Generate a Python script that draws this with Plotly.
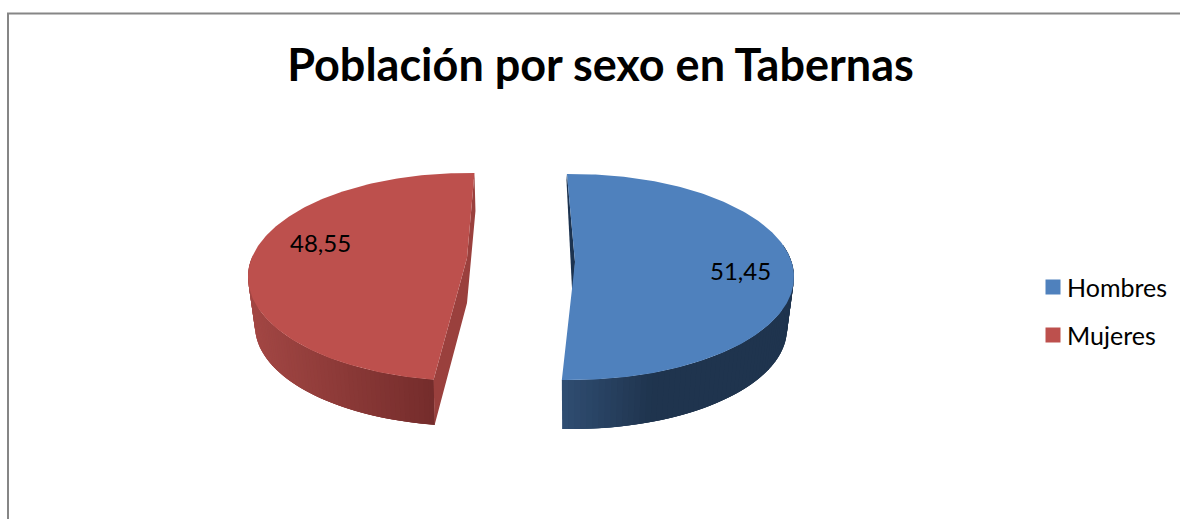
import numpy as np
import plotly.graph_objects as go

CATEGORIES = ["Hombres", "Mujeres"]
VALUES = [51.45, 48.55]
TITLE = "Población por sexo en Tabernas"
FACE_COLORS = ["#4f81bd", "#bd504d"]
FONT = "Lato"

W, H = 1180, 519


def hex2rgb(h):
    return np.array([int(h[i:i + 2], 16) for i in (1, 3, 5)], float)


def lerp(c0, c1, t):
    t = min(max(t, 0.0), 1.0)
    c = hex2rgb(c0) * (1 - t) + hex2rgb(c1) * t
    return "rgb(%d,%d,%d)" % tuple(c.round())


def ell(t_deg, cx, cy, a, b):
    t = np.radians(t_deg)
    return cx + a * np.sin(t), cy - b * np.cos(t)


# view geometry of each exploded slice (3-D look)
VIEW = [
    dict(start=-1.3, squash=0.993, top=(572, 277, 222, 103), bot=(572, 329, 215, 100),
         apex=(575, 262), grad=("#304e73", "#1f344e", 560, 650)),
    dict(start=189.0, squash=0.988, top=(468, 277, 220, 104), bot=(468, 326, 213, 100),
         apex=(467, 258), grad=("#a34744", "#742c2b", 255, 436)),
]

fig = go.Figure()


def poly(xs, ys, color):
    fig.add_trace(go.Scatter(x=list(xs), y=list(ys), mode="lines", fill="toself", fillcolor=color,
                             line=dict(color=color, width=0), hoverinfo="skip", showlegend=False))


def wall(v, a_from, a_to, n, color_of):
    # strips overlap the next ones, so that no seams show
    ts = np.linspace(a_from, a_to, n)
    for i in range(n - 1):
        tt = ts[i:min(i + 4, n)]
        x0, y0 = ell(tt, *v["top"])
        x1, y1 = ell(tt, *v["bot"])
        c = color_of(ell(ts[i:i + 2], *v["bot"])[0].mean())
        poly(list(x0) + list(x1[::-1]) + [x0[0]], list(y0) + list(y1[::-1]) + [y0[0]], c)


sweeps = [360 * v / sum(VALUES) for v in VALUES]
ends = [v["start"] + sw * v["squash"] for v, sw in zip(VIEW, sweeps)]

# Mujeres (left slice)
v = VIEW[1]
t0, t1 = v["start"], ends[1]
ex, ey = ell(t0, *v["top"])
bx, by = ell(t0, *v["bot"])
sx, sy = ell(t1, *v["top"])
g = v["grad"]
wall(v, 282, t0, 70, lambda xm: lerp(g[1], g[0], (g[3] - xm) / (g[3] - g[2])))
# cut wall of the left slice
poly([sx, sx + 1, v["apex"][0], bx, ex, v["apex"][0], sx],
     [sy, sy + 38, v["apex"][1] + 45, by, ey, v["apex"][1], sy], "#9a403d")
tt = np.linspace(t0, t1, 200)
x, y = ell(tt, *v["top"])
poly(list(x) + [v["apex"][0], x[0]], list(y) + [v["apex"][1], y[0]], FACE_COLORS[1])

# Hombres (right slice)
v = VIEW[0]
t0, t1 = v["start"], ends[0]
sx, sy = ell(t0, *v["top"])
# inner dark sliver
poly([sx, v["apex"][0], v["apex"][0] - 2, sx - 0.5, sx],
     [sy, v["apex"][1], v["apex"][1] + 46, sy + 6, sy], "#1c3350")
g = v["grad"]
wall(v, t1, 72, 70, lambda xm: lerp(g[0], g[1], (xm - g[2]) / (g[3] - g[2])))
tt = np.linspace(t0, t1, 200)
x, y = ell(tt, *v["top"])
poly(list(x) + [v["apex"][0], x[0]], list(y) + [v["apex"][1], y[0]], FACE_COLORS[0])

# legend: square keys and labels
LEGEND_KEY_X = 1053
LEGEND_TEXT_X = 1067
LEGEND_Y = [287, 335]
for name, col, ly in zip(CATEGORIES, FACE_COLORS, LEGEND_Y):
    fig.add_trace(go.Scatter(x=[LEGEND_KEY_X], y=[ly], mode="markers", name=name, showlegend=False,
                             hoverinfo="skip", marker=dict(symbol="square", size=15, color=col)))

# value labels
LABEL_POS = [(740, 270), (320, 242)]
annotations = [dict(x=p[0], y=p[1], text=f"{val:.2f}".replace(".", ","), showarrow=False,
                    xref="x", yref="y", font=dict(family=FONT, size=24, color="#000000"))
               for p, val in zip(LABEL_POS, VALUES)]
annotations += [dict(x=LEGEND_TEXT_X, y=ly, text=name, showarrow=False, xanchor="left", xref="x", yref="y",
                     xshift=-2, font=dict(family=FONT, size=25, color="#000000"))
                for name, ly in zip(CATEGORIES, LEGEND_Y)]

# chart frame
shapes = [
    dict(type="line", x0=7, x1=W, y0=13.5, y1=13.5, xref="x", yref="y", line=dict(color="#868686", width=2)),
    dict(type="line", x0=8, x1=8, y0=13, y1=H, xref="x", yref="y", line=dict(color="#868686", width=2)),
]

fig.update_layout(
    width=W, height=H, margin=dict(l=0, r=0, t=0, b=0),
    paper_bgcolor="#ffffff", plot_bgcolor="#ffffff",
    xaxis=dict(range=[0, W], visible=False, fixedrange=True),
    yaxis=dict(range=[H, 0], visible=False, fixedrange=True),
    title=dict(text=f"<b>{TITLE}</b>", x=600.5 / W, xanchor="center", y=1 - 65 / H, yanchor="middle",
               font=dict(family=FONT, size=45, color="#000000")),
    annotations=annotations, shapes=shapes, showlegend=False,
)

fig.write_html("out.html", config=dict(displayModeBar=False),
               post_script="document.body.style.margin='0';")
